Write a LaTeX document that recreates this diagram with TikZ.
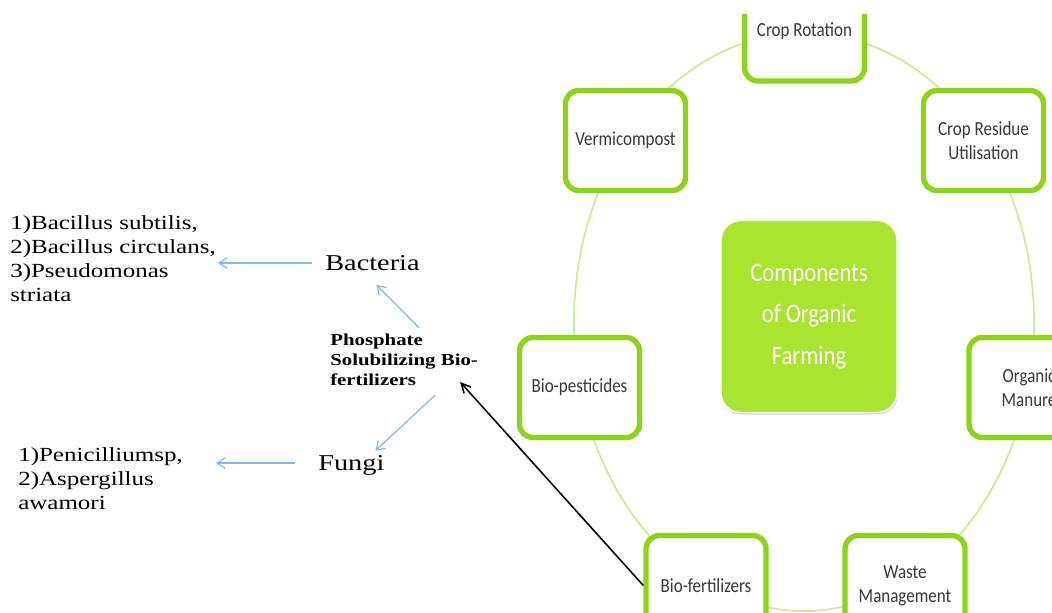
\documentclass[tikz,border=0pt]{standalone}
\usepackage{fontspec}
\setmainfont{Liberation Serif}
\newfontfamily\serifw[FakeStretch=1.25]{Liberation Serif}
\newfontfamily\calw[FakeStretch=0.85]{Carlito}
\usetikzlibrary{arrows.meta,shadows}
\definecolor{limeline}{RGB}{140,212,22}
\definecolor{limefill}{RGB}{168,228,48}
\definecolor{ringcol}{RGB}{205,236,150}
\definecolor{arrblue}{RGB}{135,182,238}
\begin{document}
\begin{tikzpicture}[x=0.75pt,y=-0.75pt,
	comp/.style={draw=limeline,line width=4pt,fill=white,rounded corners=10pt,
		minimum width=90pt,minimum height=75pt,align=center,text=black!78,
		font=\calw\fontsize{15}{18}\selectfont,
		drop shadow={shadow xshift=0.6pt,shadow yshift=-1.6pt,opacity=0.3}},
	hub/.style={draw=white,line width=1pt,fill=limefill,rounded corners=15pt,
		minimum width=132pt,minimum height=144pt,align=center,text=white,
		font=\calw\fontsize{20}{31}\selectfont,
		drop shadow={shadow xshift=0.6pt,shadow yshift=-1.6pt,opacity=0.3}},
	lbl/.style={inner sep=0pt,align=left,text=black,anchor=west},
	bluearr/.style={draw=arrblue,line width=0.9pt,-{Straight Barb[length=6pt,width=8pt]}},
	blackarr/.style={draw=black,line width=1.2pt,-{Straight Barb[length=7pt,width=7pt]}}]
	\useasboundingbox (0,0) rectangle (1052,613);
	\clip (0,15) rectangle (1052,613);
	% ring behind the components
	\draw[ringcol,line width=1.3pt] (804,322) ellipse [x radius=230,y radius=289];
	\node[hub] (hub) at (809,316.5) {Components\\of Organic\\Farming};
	\node[comp] (rot) at (804.5,31) {Crop Rotation};
	\node[comp] (verm) at (625.5,140.5) {Vermicompost};
	\node[comp] (resid) at (983.5,140.5) {Crop Residue\\Utilisation};
	\node[comp] (pest) at (579.5,387.5) {Bio-pesticides};
	\node[comp] (manure) at (1029,387.5) {Organic\\Manure};
	\node[comp] (biof) at (706,585.5) {Bio-fertilizers};
	\node[comp] (waste) at (905,585.5) {Waste\\Management};
	% left side
	\node[lbl,font=\serifw\fontsize{15}{18}\selectfont] (bactlist) at (10,258.5) {1)Bacillus subtilis,\\2)Bacillus circulans,\\3)Pseudomonas\\striata};
	\node[lbl,font=\serifw\fontsize{17}{20}\selectfont] (bact) at (325,263) {Bacteria};
	\node[lbl,font=\serifw\bfseries\fontsize{12.5}{15}\selectfont] (phos) at (330,360) {Phosphate\\Solubilizing Bio-\\fertilizers};
	\node[lbl,font=\serifw\fontsize{17}{20}\selectfont] (fungi) at (318,465) {Fungi};
	\node[lbl,font=\serifw\fontsize{15}{18}\selectfont] (fungilist) at (18,479) {1)Penicilliumsp,\\2)Aspergillus\\awamori};
	\draw[bluearr] ([shift={(-13,0)}]bact.west) -- ([shift={(2,0)}]bact.west -| bactlist.east);
	\draw[bluearr] ([shift={(15,-6)}]phos.north) -- ([shift={(4,14)}]bact.south);
	\draw[bluearr] ([shift={(31,9)}]phos.south) -- ([shift={(24,-4)}]fungi.north);
	\draw[bluearr] ([shift={(-23,-2)}]fungi.west) -- ([shift={(33,-2)}]fungi.west -| fungilist.east);
	\draw[blackarr] (biof.west) -- ([shift={(-18,22)}]phos.east);
\end{tikzpicture}
\end{document}
